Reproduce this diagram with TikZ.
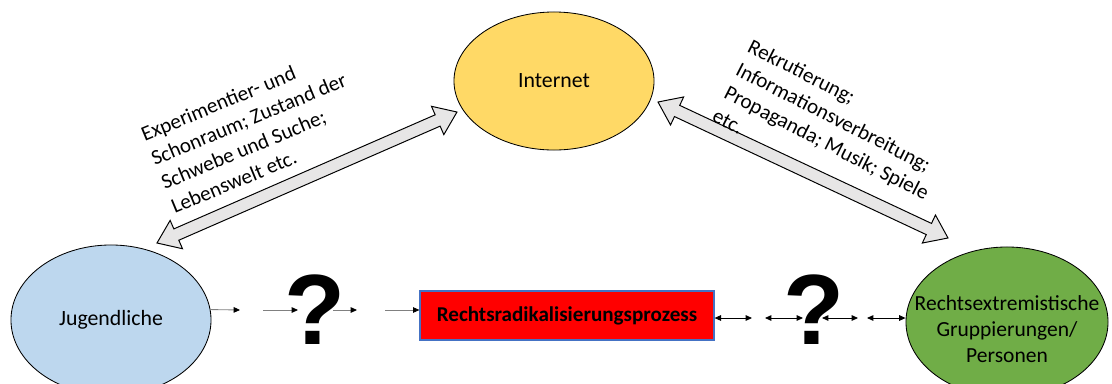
\documentclass[tikz,border=0pt]{standalone}
\usepackage{fontspec}
\setmainfont{Carlito}
\newfontfamily\qfont{Liberation Sans}
\usepackage{tikz}
\usetikzlibrary{shapes.geometric, arrows.meta, positioning, calc}
\definecolor{netyellow}{RGB}{255,217,102}
\definecolor{youthblue}{RGB}{189,215,238}
\definecolor{groupgreen}{RGB}{112,173,71}
\definecolor{procred}{RGB}{255,0,0}
\definecolor{procborder}{RGB}{68,114,196}
\definecolor{blockgray}{RGB}{231,230,230}

% block double arrow from #1 to #2
\newcommand\blockarrow[2]{%
  \path let \p1=($(#2)-(#1)$) in \pgfextra{%
    \pgfmathsetmacro\tmpang{atan2(\y1,\x1)}\global\let\barang\tmpang
    \pgfmathsetmacro\tmplen{veclen(\x1,\y1)}\global\let\barlen\tmplen};
  \begin{scope}[shift={(#1)}, rotate=\barang]
    \draw[blockarr] (0pt,0pt) -- (15pt,11pt) -- (15pt,4.4pt)
      -- ({\barlen pt-15pt},4.4pt) -- ({\barlen pt-15pt},11pt) -- (\barlen pt,0pt)
      -- ({\barlen pt-15pt},-11pt) -- ({\barlen pt-15pt},-4.4pt)
      -- (15pt,-4.4pt) -- (15pt,-11pt) -- cycle;
  \end{scope}}

\begin{document}
\begin{tikzpicture}[x=0.025cm, y=-0.025cm,
  blob/.style={ellipse, draw=black, line width=0.6pt, inner sep=0pt,
               font=\fontsize{15.5}{18.5}\selectfont},
  procbox/.style={rectangle, draw=procborder, line width=0.8pt, fill=procred,
               minimum width=7.35cm, minimum height=1.225cm,
               font=\fontsize{15}{18}\selectfont\bfseries},
  lbl/.style={align=left, inner sep=0pt, font=\fontsize{15}{18.5}\selectfont},
  qmark/.style={font=\fontsize{71}{71}\qfont\bfseries, inner sep=0pt},
  grayarr/.style={-{Triangle[length=1.6mm, width=1.4mm, black]}, gray, line width=0.6pt},
  dblarr/.style={{Triangle[length=1.6mm, width=1.4mm]}-{Triangle[length=1.6mm, width=1.4mm]},
               black, line width=0.6pt},
  blockarr/.style={draw=black, fill=blockgray, line width=0.7pt, line join=miter},
]
  \useasboundingbox (0,0) rectangle (1112,383);
  \clip (0,0) rectangle (1112,383);

  \node[blob, fill=netyellow, minimum width=5cm, minimum height=3.45cm] (net) at (554,81) {Internet};
  \node[blob, fill=youthblue, minimum width=5cm, minimum height=3.75cm] (jug) at (111,320) {Jugendliche};
  \node[blob, fill=groupgreen, minimum width=5.05cm, minimum height=3.75cm,
        label={[lbl, align=center, yshift=-0.17cm, font=\fontsize{15.3}{18.5}\selectfont]center:{Rechtsextremistische\\Gruppierungen/\\Personen}}] (grp) at (1007,322) {};
  \node[procbox] (proc) at (567,315.5) {Rechtsradikalisierungsprozess};

  \node[qmark] (q1) at (315,310) {?};
  \node[qmark] (q2) at (814,310) {?};

  % Internet <-> Jugendliche / Gruppierungen
  \coordinate (jt) at (157,243);
  \coordinate (nl) at (457,112);
  \coordinate (nr) at (658,102);
  \coordinate (gt) at (948,238);
  \blockarrow{jt}{nl}
  \blockarrow{nr}{gt}

  \node[lbl, rotate=22.5, anchor=north west] (lbl1) at (139,128)
    {Experimentier- und\\Schonraum; Zustand der\\Schwebe und Suche;\\Lebenswelt etc.};
  \node[lbl, rotate=-27, anchor=north west] (lbl2) at (753,38)
    {Rekrutierung;\\Informationsverbreitung;\\Propaganda; Musik; Spiele\\etc.};

  % Jugendliche -> Prozess
  \coordinate (la1) at (jug.6);
  \coordinate (lb1) at (240,310);
  \coordinate (la2) at (263,310);
  \coordinate (lb2) at (298,310);
  \coordinate (la3) at (333,310);
  \coordinate (lb3) at (357,310);
  \coordinate (la4) at (385,310);
  \coordinate (lb4) at (proc.west |- la4);
  \foreach \i in {1,...,4}
    \draw[grayarr] (la\i) -- (lb\i);

  % Prozess <-> Gruppierungen
  \coordinate (ra1) at (proc.east |- 0,318);
  \coordinate (rb1) at (752,318);
  \coordinate (ra2) at (765,318);
  \coordinate (rb2) at (803,318);
  \coordinate (ra3) at (822,318);
  \coordinate (rb3) at (858,318);
  \coordinate (ra4) at (867,318);
  \coordinate (rb4) at (grp.west |- ra4);
  \foreach \i in {1,...,4}
    \draw[dblarr] (ra\i) -- (rb\i);
\end{tikzpicture}
\end{document}
